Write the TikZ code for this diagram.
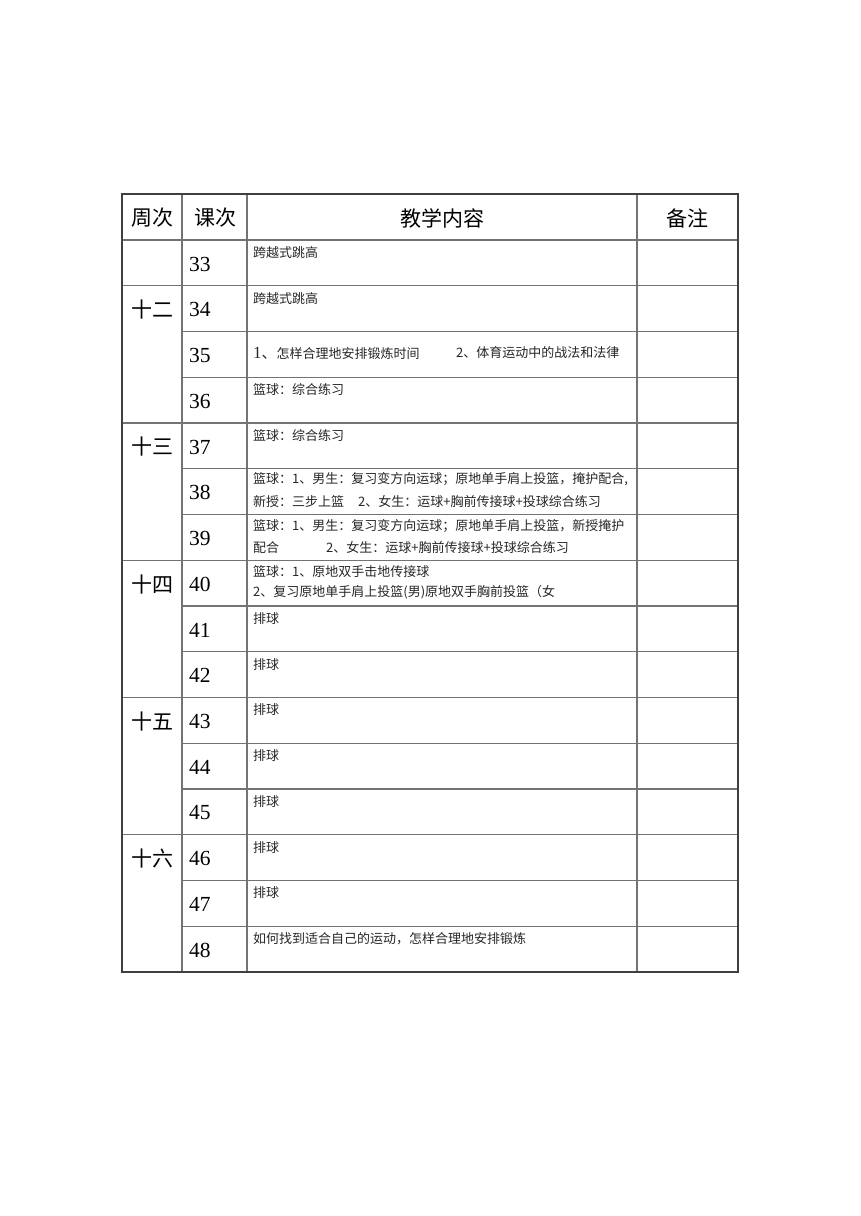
\documentclass[tikz,border=0pt]{standalone}
\usepackage{fontspec}
\setmainfont{Liberation Serif}
\newfontfamily\cjk{Noto Sans CJK SC}
\tikzset{
    rule/.style={line width=1.2pt, draw=black!55},
    frame/.style={line width=1.3pt, draw=black!75},
    head/.style={inner sep=0pt, font=\fontsize{21}{21}\selectfont\cjk},
    num/.style={inner sep=0pt, anchor=west, font=\fontsize{21.5}{21.5}\selectfont},
    cell/.style={inner sep=0pt, anchor=west, text=black!85, font=\fontsize{13}{14}\selectfont\cjk},
}

\begin{document}
\begin{tikzpicture}[x=1pt, y=-1pt]
        \useasboundingbox (0,0) rectangle (860,1216);
        %draw horizontal rules, row k starts at 240+45.75k
        \draw[rule] (122,240) -- (738,240);
        \foreach \k in {1,...,15}
            \draw[rule] (182,240+45.75*\k) -- (738,240+45.75*\k);
        \foreach \k in {1,4,7,10,13}
            \draw[rule] (122,240+45.75*\k) -- (182,240+45.75*\k);
        %draw vertical rules
        \foreach \x in {182,247,637}
            \draw[rule] (\x,194) -- (\x,972);
        %draw outer frame
        \draw[frame] (122,194) rectangle (738,972);
        %label header
        \node[head] (hweek) at (152,218) {周次};
        \node[head] (hlesson) at (215,218) {课次};
        \node[head] (hcontent) at (442,218) {教学内容};
        \node[head] (hnote) at (687,218) {备注};
        %label lesson numbers
        \foreach \k in {0,...,15}{
            \pgfmathtruncatemacro{\n}{33+\k}
            \node[num] (l\n) at (189,240+45.75*\k+24) {\n};
        }
        %label weeks
        \foreach \k/\w/\nm in {1/十二/w12, 4/十三/w13, 7/十四/w14, 10/十五/w15, 13/十六/w16}
            \node[head] (\nm) at (152,240+45.75*\k+24) {\w};
        %label one-line contents
        \foreach \n/\t in {33/跨越式跳高, 34/跨越式跳高, 36/篮球：综合练习, 37/篮球：综合练习,
                41/排球, 42/排球, 43/排球, 44/排球, 45/排球, 46/排球, 47/排球,
                48/{如何找到适合自己的运动，怎样合理地安排锻炼}}
            \node[cell] (c\n) at (253,240+45.75*\n-45.75*33+12.5) {\t};
        %lesson 35
        \node[cell] (c35) at (253,353) {{\fontsize{17}{17}\selectfont\rmfamily 1}{\fontsize{15}{15}\selectfont 、}怎样合理地安排锻炼时间};
        \node[cell] (c35b) at (456,353) {2、体育运动中的战法和法律};
        %two-line contents
        \node[cell] (c38) at (253,479.5) {篮球：1、男生：复习变方向运球；原地单手肩上投篮，掩护配合,};
        \node[cell] (c38b) at (253,501.5) {新授：三步上篮\hspace{14pt}2、女生：运球+胸前传接球+投球综合练习};
        \node[cell] (c39) at (253,526) {篮球：1、男生：复习变方向运球；原地单手肩上投篮，新授掩护};
        \node[cell] (c39b) at (253,548) {配合\hspace{47pt}2、女生：运球+胸前传接球+投球综合练习};
        \node[cell] (c40) at (253,571.5) {篮球：1、原地双手击地传接球};
        \node[cell] (c40b) at (253,592.5) {2、复习原地单手肩上投篮(男)原地双手胸前投篮（女};
    \end{tikzpicture}
\end{document}
